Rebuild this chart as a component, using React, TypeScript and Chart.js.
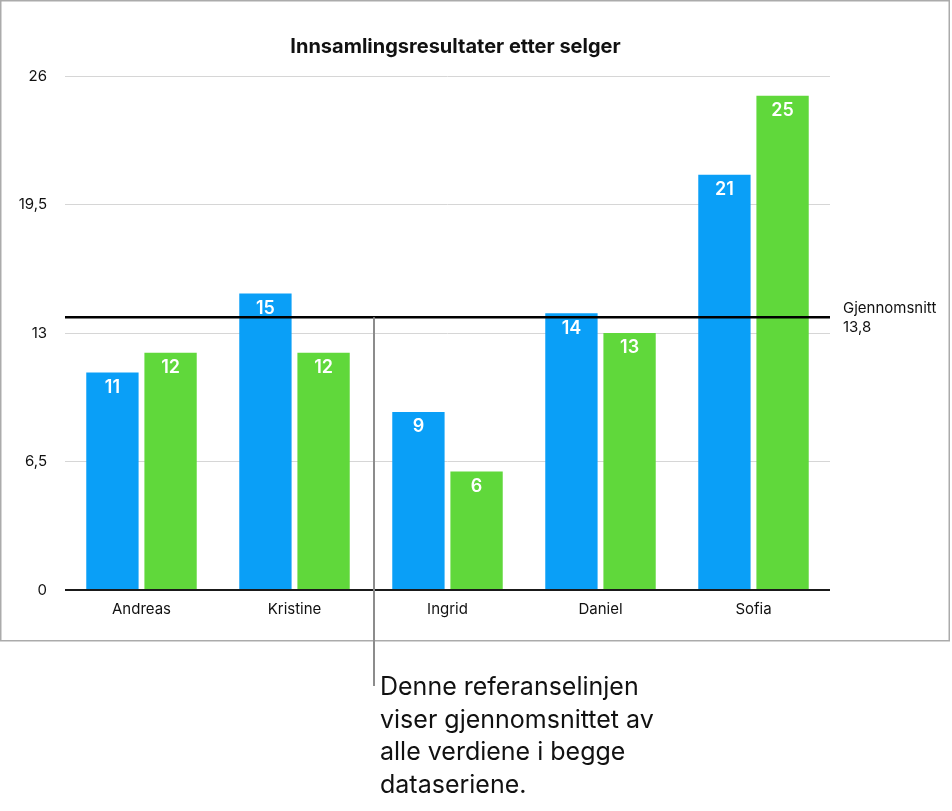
import { useEffect, useRef } from "react";
import { Chart, registerables } from "chart.js";

Chart.register(...registerables);

const sellers = ["Andreas", "Kristine", "Ingrid", "Daniel", "Sofia"];
const seriesA = [11, 15, 9, 14, 21];
const seriesB = [12, 12, 6, 13, 25];
const yTicks = [0, 6.5, 13, 19.5, 26];
const chartTitle = "Innsamlingsresultater etter selger";
const refLabel = "Gjennomsnitt";
const note = ["Denne referanselinjen", "viser gjennomsnittet av", "alle verdiene i begge", "dataseriene."];

const allValues = [...seriesA, ...seriesB];
const average = allValues.reduce((s, v) => s + v, 0) / allValues.length;

const FONT = "Inter, 'Liberation Sans', Arial, sans-serif";
const fmt = (v: number) => String(v).replace(".", ",");

const chartExtras = {
  id: "chartExtras",
  beforeDraw(chart: any) {
    const { ctx, chartArea } = chart;
    ctx.save();
    ctx.strokeStyle = "#ababab";
    ctx.lineWidth = 1.5;
    ctx.strokeRect(0.75, 0.75, 948.5, 640);

    ctx.fillStyle = "#111";
    ctx.font = `bold 20px ${FONT}`;
    ctx.textAlign = "center";
    ctx.textBaseline = "alphabetic";
    ctx.fillText(chartTitle, (chartArea.left + chartArea.right) / 2 + 8, 52.5);
    ctx.restore();
  },
  afterDatasetsDraw(chart: any) {
    const { ctx, chartArea, scales } = chart;
    ctx.save();
    // bar value labels
    ctx.fillStyle = "#ffffff";
    ctx.font = `600 18px ${FONT}`;
    ctx.textAlign = "center";
    ctx.textBaseline = "middle";
    chart.data.datasets.forEach((ds: any, i: number) => {
      const meta = chart.getDatasetMeta(i);
      meta.data.forEach((bar: any, j: number) => {
        ctx.fillText(String(ds.data[j]), bar.x, bar.y + 15);
      });
    });

    // reference line for the average
    const y = scales.y.getPixelForValue(average);
    ctx.strokeStyle = "#000000";
    ctx.lineWidth = 2.5;
    ctx.beginPath();
    ctx.moveTo(chartArea.left, y);
    ctx.lineTo(chartArea.right, y);
    ctx.stroke();

    ctx.fillStyle = "#111111";
    ctx.font = `15px ${FONT}`;
    ctx.textAlign = "left";
    ctx.fillText(refLabel, chartArea.right + 13, y - 9);
    ctx.fillText(fmt(Math.round(average * 10) / 10), chartArea.right + 13, y + 10);

    // callout leader
    const cx = (scales.x.getPixelForValue(1) + scales.x.getPixelForValue(2)) / 2 + 3;
    ctx.strokeStyle = "#8c8c8c";
    ctx.lineWidth = 2;
    ctx.beginPath();
    ctx.moveTo(cx, y);
    ctx.lineTo(cx, 686);
    ctx.stroke();
    ctx.restore();
  },
};

function BarChart() {
  const canvasRef = useRef<HTMLCanvasElement>(null);

  useEffect(() => {
    if (!canvasRef.current) return;
    const chart = new Chart(canvasRef.current, {
      type: "bar",
      data: {
        labels: sellers,
        datasets: [
          { data: seriesA, backgroundColor: "#0a9ff7", categoryPercentage: 0.76, barPercentage: 0.9 },
          { data: seriesB, backgroundColor: "#60d83b", categoryPercentage: 0.76, barPercentage: 0.9 },
        ],
      },
      options: {
        responsive: false,
        animation: false,
        devicePixelRatio: 1,
        layout: { padding: { left: 0, right: 122, top: 76, bottom: 181 } },
        scales: {
          y: {
            min: 0,
            max: 26,
            afterFit: (s: any) => {
              s.width = 65;
            },
            afterBuildTicks: (s: any) => {
              s.ticks = yTicks.map((v) => ({ value: v }));
            },
            ticks: {
              color: "#111",
              padding: 18,
              font: { family: FONT, size: 15 },
              callback: (v: any) => fmt(Number(v)),
            },
            grid: {
              drawTicks: false,
              color: (c: any) => (c.tick && c.tick.value === 0 ? "#1a1a1a" : "#d6d6d6"),
              lineWidth: (c: any) => (c.tick && c.tick.value === 0 ? 2 : 1),
            },
            border: { display: false },
          },
          x: {
            afterFit: (s: any) => {
              s.height = 40;
            },
            ticks: { color: "#111", padding: 10, font: { family: FONT, size: 15 } },
            grid: { display: false, drawTicks: false },
            border: { display: false },
          },
        },
        plugins: {
          legend: { display: false },
          tooltip: { enabled: false },
          title: { display: false },
        },
      },
      plugins: [chartExtras],
    });
    return () => chart.destroy();
  }, []);

  return <canvas ref={canvasRef} width={952} height={811} style={{ display: "block" }} />;
}

export default function App() {
  return (
    <div style={{ position: "fixed", left: 0, top: 0, width: 952, height: 811, background: "#fff" }}>
      <BarChart />
      <div
        style={{
          position: "absolute",
          left: 380,
          top: 670,
          fontFamily: FONT,
          fontSize: 25,
          lineHeight: "32.7px",
          color: "#111",
        }}
      >
        {note.map((line) => (
          <div key={line}>{line}</div>
        ))}
      </div>
    </div>
  );
}
